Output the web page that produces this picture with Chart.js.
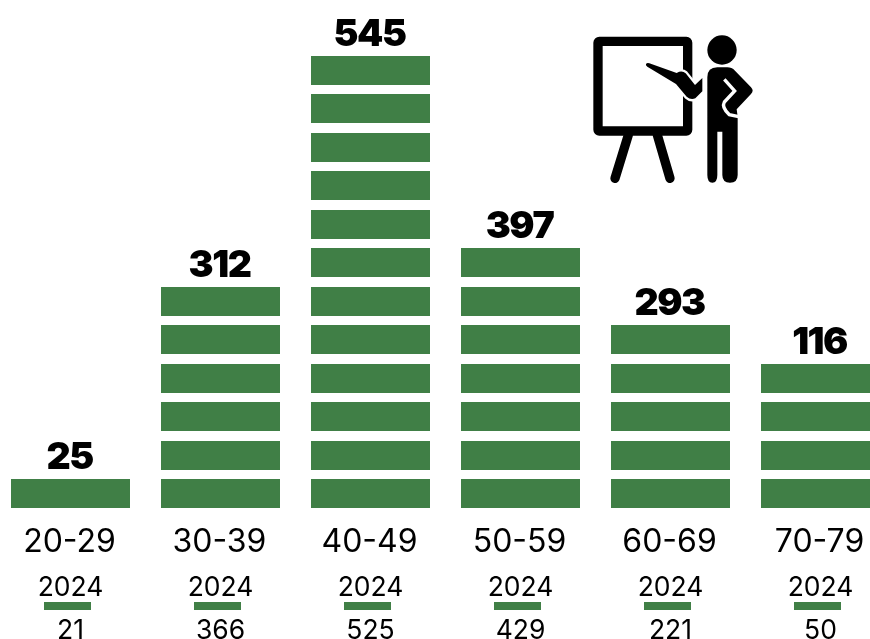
<!DOCTYPE html>
<html>
<head>
<meta charset="utf-8">
<title>Age groups</title>
<script src="https://cdn.jsdelivr.net/npm/chart.js@4/dist/chart.umd.min.js"></script>
<style>
  html, body { margin: 0; padding: 0; background: #fff; overflow: hidden; }
  #wrap { position: relative; width: 870px; height: 639px; overflow: hidden; }
  #chart { position: absolute; left: -5px; top: 0; }
  #icon { position: absolute; left: 570px; top: 20px; }
</style>
</head>
<body>
<div id="wrap">
  <canvas id="chart" width="901" height="639"></canvas>
  <!-- presenter pictogram, top right -->
  <svg id="icon" width="200" height="180" viewBox="0 0 600 540">
    <rect x="84" y="64" width="269" height="269" rx="4" fill="none" stroke="#000" stroke-width="28" stroke-linejoin="round"/>
    <path d="M175 345 L135 475 M262 345 L300 475" stroke="#000" stroke-width="28" stroke-linecap="round"/>
    <circle cx="456" cy="90" r="44" fill="#000"/>
    <path d="M228 132 Q232 127 238 130 L320 159 Q336 150 347 160 L375 195 L397 174 L397 214 L376 235 Q362 241 350 230 L318 192 L232 140 Q226 136 228 132 Z" fill="#000" stroke="#fff" stroke-width="14" stroke-linejoin="round" paint-order="stroke"/>
    <path d="M412 172 Q412 142 442 142 L472 142 Q485 142 495 152 L543 202 Q553 212 543 222 L500 268 L503 290 L503 465 Q503 488 480 488 Q457 488 457 465 L457 335 L442 335 L442 465 Q442 488 427 488 Q412 488 412 465 Z" fill="#000"/>
    <path d="M463 178 L494 213 L463 246 Q454 262 478 284 L506 290" fill="none" stroke="#fff" stroke-width="10"/>
  </svg>
</div>
<script>
const ageGroups = ['20-29', '30-39', '40-49', '50-59', '60-69', '70-79'];
const totals = [25, 312, 545, 397, 293, 116];
const segmentCounts = [1, 6, 12, 7, 5, 4];
const prevYear = '2024';
const prevTotals = [21, 366, 525, 429, 221, 50];

const green = '#407f46';
const fontName = 'Inter, "Noto Sans", sans-serif';

// vertical layout, in y scale units (one unit is one pixel, zero is the baseline)
const rowStep = 38.45;
const segmentHeight = 29;
const barWidth = 119;
const dashWidth = 47;

// one dataset per row of the stack, columns without that row stay empty
const rowCount = Math.max(...segmentCounts);
const datasets = [];
for (let r = 0; r < rowCount; r++) {
  const start = Math.round(r * rowStep);
  datasets.push({
    data: segmentCounts.map(c => (r < c ? [start, start + segmentHeight] : null)),
    backgroundColor: green,
    barThickness: barWidth,
    borderWidth: 0,
    inflateAmount: 0
  });
}
// short dash under the previous year label, on its own slightly shifted x axis
datasets.push({
  xAxisID: 'xDash',
  data: ageGroups.map((name, i) => ({ x: i, y: [-102, -94] })),
  backgroundColor: green,
  barThickness: dashWidth,
  borderWidth: 0,
  inflateAmount: 0
});

// totals above the stacks and the text rows under them
const labelPlugin = {
  id: 'labels',
  afterDatasetsDraw(chart) {
    const ctx = chart.ctx;
    const xs = chart.scales.x;
    const ys = chart.scales.y;
    ctx.save();
    ctx.textAlign = 'center';
    ctx.textBaseline = 'alphabetic';
    ctx.fillStyle = '#000';
    ageGroups.forEach((name, i) => {
      const x = xs.getPixelForValue(i);
      const topRow = Math.round((segmentCounts[i] - 1) * rowStep) + segmentHeight;

      ctx.font = '900 37.5px ' + fontName;
      ctx.letterSpacing = '-1.5px';
      ctx.fillText(totals[i], x - 1, ys.getPixelForValue(topRow + 10));
      ctx.letterSpacing = '0px';

      ctx.font = '400 32px ' + fontName;
      ctx.fillText(name, x - 1, ys.getPixelForValue(-44));

      ctx.font = '400 26.5px ' + fontName;
      ctx.fillText(prevYear, x, ys.getPixelForValue(-88));
      ctx.fillText(prevTotals[i], x, ys.getPixelForValue(-131));
    });
    ctx.restore();
  }
};

new Chart(document.getElementById('chart'), {
  type: 'bar',
  data: { labels: ageGroups, datasets: datasets },
  plugins: [labelPlugin],
  options: {
    responsive: false,
    animation: false,
    layout: { padding: { left: 0.5, right: 0.5, top: 0, bottom: 0 } },
    plugins: { legend: { display: false }, tooltip: { enabled: false } },
    scales: {
      x: { display: false },
      xDash: { type: 'linear', display: false, offset: false, min: -0.48, max: 5.52 },
      y: { display: false, min: -131, max: 508 }
    },
    datasets: { bar: { grouped: false } }
  }
});
</script>
</body>
</html>
